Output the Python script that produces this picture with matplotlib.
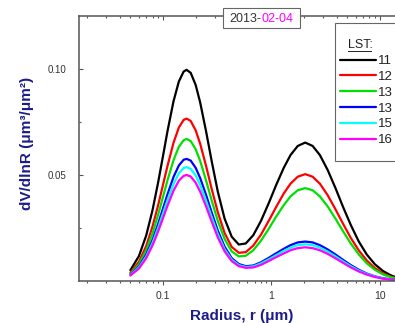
import matplotlib.pyplot as plt
from matplotlib.patches import Rectangle
from matplotlib.lines import Line2D

plt.rcParams['font.family'] = ['Liberation Sans', 'DejaVu Sans']

# radius (um) and dV/dlnR
radius = [0.05, 0.06, 0.07, 0.08, 0.09, 0.10, 0.11, 0.125, 0.14, 0.155, 0.165,
          0.18, 0.20, 0.22, 0.25, 0.28, 0.32, 0.37, 0.43, 0.5, 0.58, 0.68, 0.8,
          0.95, 1.1, 1.3, 1.5, 1.75, 2.05, 2.4, 2.8, 3.3, 3.9, 4.6, 5.4, 6.4,
          7.6, 9.0, 10.7, 12.5, 14.0]

lst_11 = [0.0051, 0.0118, 0.0215, 0.0334, 0.0463, 0.0590, 0.0707, 0.0848, 0.0941,
          0.0988, 0.0996, 0.0982, 0.0925, 0.0843, 0.0704, 0.0570, 0.0422, 0.0294,
          0.0209, 0.0172, 0.0177, 0.0216, 0.0283, 0.0370, 0.0450, 0.0534, 0.0594,
          0.0637, 0.0653, 0.0637, 0.0594, 0.0524, 0.0438, 0.0347, 0.0264, 0.0186,
          0.0124, 0.0079, 0.0047, 0.0028, 0.0018]
lst_12 = [0.0039, 0.0091, 0.0165, 0.0257, 0.0356, 0.0454, 0.0543, 0.0652, 0.0724,
          0.0760, 0.0766, 0.0755, 0.0711, 0.0648, 0.0541, 0.0438, 0.0325, 0.0226,
          0.0161, 0.0133, 0.0136, 0.0167, 0.0218, 0.0286, 0.0347, 0.0413, 0.0459,
          0.0492, 0.0504, 0.0492, 0.0459, 0.0405, 0.0338, 0.0268, 0.0203, 0.0144,
          0.0096, 0.0061, 0.0036, 0.0021, 0.0014]
lst_13a = [0.0034, 0.0079, 0.0145, 0.0225, 0.0311, 0.0397, 0.0475, 0.0570, 0.0633,
           0.0664, 0.0670, 0.0660, 0.0622, 0.0567, 0.0473, 0.0383, 0.0284, 0.0198,
           0.0140, 0.0116, 0.0119, 0.0145, 0.0190, 0.0248, 0.0302, 0.0358, 0.0399,
           0.0428, 0.0438, 0.0428, 0.0399, 0.0352, 0.0294, 0.0233, 0.0177, 0.0125,
           0.0083, 0.0053, 0.0031, 0.0019, 0.0012]
lst_13b = [0.0030, 0.0068, 0.0125, 0.0193, 0.0268, 0.0342, 0.0409, 0.0491, 0.0545,
           0.0572, 0.0576, 0.0568, 0.0534, 0.0486, 0.0405, 0.0326, 0.0238, 0.0162,
           0.0108, 0.0080, 0.0070, 0.0073, 0.0088, 0.0110, 0.0130, 0.0152, 0.0169,
           0.0182, 0.0186, 0.0182, 0.0169, 0.0149, 0.0125, 0.0099, 0.0075, 0.0053,
           0.0035, 0.0022, 0.0013, 0.0008, 0.0005]
lst_15 = [0.0028, 0.0064, 0.0116, 0.0180, 0.0250, 0.0319, 0.0381, 0.0457, 0.0508,
          0.0533, 0.0537, 0.0529, 0.0498, 0.0453, 0.0377, 0.0304, 0.0222, 0.0150,
          0.0101, 0.0075, 0.0066, 0.0069, 0.0083, 0.0103, 0.0121, 0.0142, 0.0157,
          0.0169, 0.0173, 0.0169, 0.0157, 0.0139, 0.0116, 0.0092, 0.0070, 0.0049,
          0.0033, 0.0021, 0.0012, 0.0007, 0.0005]
lst_16 = [0.0026, 0.0059, 0.0108, 0.0168, 0.0233, 0.0297, 0.0355, 0.0426, 0.0473,
          0.0496, 0.0500, 0.0493, 0.0464, 0.0422, 0.0351, 0.0283, 0.0206, 0.0140,
          0.0094, 0.0070, 0.0062, 0.0064, 0.0076, 0.0095, 0.0112, 0.0130, 0.0145,
          0.0155, 0.0159, 0.0155, 0.0145, 0.0128, 0.0107, 0.0085, 0.0064, 0.0045,
          0.0030, 0.0019, 0.0011, 0.0007, 0.0004]

labels = ['11', '12', '13', '13', '15', '16']
colors = ['black', '#ff0000', '#00e000', '#0000ff', '#00ffff', '#ff00ff']
series = [lst_11, lst_12, lst_13a, lst_13b, lst_15, lst_16]

W, H = 395, 323
fig = plt.figure(figsize=(W / 100, H / 100), dpi=100)
ax = fig.add_axes([79 / W, 1 - 281 / H, 1 - 79 / W, 265 / H])

handles = []
for vals, col, lab in zip(series, colors, labels):
    ln, = ax.plot(radius, vals, color=col, lw=1.6, label=lab,
                  solid_joinstyle='round', solid_capstyle='round')
    handles.append(ln)

ax.set_xscale('log')
ax.set_xlim(10 ** -1.775, 10 ** 1.14)
ax.set_ylim(0, 0.125)

spine_col = '#555555'
for s in ['left', 'bottom']:
    ax.spines[s].set_color(spine_col)
    ax.spines[s].set_linewidth(1.1)
ax.spines['right'].set_visible(False)
ax.spines['top'].set_visible(False)

ax.set_xticks([0.1, 1, 10], labels=['0.1', '1', '10'])
ax.set_yticks([0.05, 0.10], labels=['0.05', '0.10'])
ax.set_yticks([0.025, 0.075], minor=True)
ax.tick_params(axis='x', which='both', direction='out', colors=spine_col,
               labelcolor='#333333', labelsize=7.5, pad=4)
ax.tick_params(axis='y', which='both', direction='in', colors=spine_col,
               labelcolor='#333333', labelsize=7, pad=9)
ax.tick_params(which='major', length=3, width=0.8)
ax.tick_params(which='minor', length=1.6, width=0.8)

top = ax.secondary_xaxis('top')
top.spines['top'].set_color(spine_col)
top.spines['top'].set_linewidth(1.1)
top.tick_params(which='both', direction='in', colors=spine_col, labeltop=False)
top.tick_params(which='major', length=3, width=0.8)
top.tick_params(which='minor', length=1.6, width=0.8)

navy = '#1c1c8a'
ax.set_xlabel('Radius, r (\u03bcm)', fontsize=11, fontweight='bold', color=navy)
ax.xaxis.set_label_coords((242 - 79) / 316, (281 - 309) / 265)
ax.set_ylabel('dV/dlnR (\u03bcm\u00b3/\u03bcm\u00b2)', fontsize=11, fontweight='bold', color=navy)
ax.yaxis.set_label_coords((34 - 79) / 316, 0.52)

# date box
fig.add_artist(Rectangle((223 / W, 1 - 28 / H), 77 / W, 20 / H, transform=fig.transFigure,
                         facecolor='white', edgecolor='#666666', lw=0.8, zorder=5))
fig.text(261 / W, 1 - 18.5 / H, '2013-', ha='right', va='center', fontsize=9,
         color='#333333', zorder=6)
fig.text(261 / W, 1 - 18.5 / H, '02-04', ha='left', va='center', fontsize=9,
         color='#ff00ff', zorder=6)

# legend
fig.add_artist(Rectangle((335 / W, 1 - 161 / H), 0.2, 138 / H, transform=fig.transFigure,
                         facecolor='white', edgecolor='#666666', lw=0.8, zorder=4))
fig.text(348 / W, 1 - 45 / H, 'LST:', ha='left', va='center', fontsize=9,
         color='#222222', zorder=6)
fig.add_artist(Line2D([348 / W, 371 / W], [1 - 50.5 / H] * 2, transform=fig.transFigure,
                      color='#222222', lw=0.7, zorder=6))
leg = fig.legend(handles, labels, loc='upper left', bbox_to_anchor=(340 / W, 1 - 55 / H),
                 frameon=False, fontsize=9.5, borderpad=0, borderaxespad=0,
                 handlelength=2.7, handletextpad=0.2, labelspacing=0.27)
leg.set_zorder(6)
for t in leg.get_texts():
    t.set_color('#222222')

fig.savefig('out.png', dpi=100)
